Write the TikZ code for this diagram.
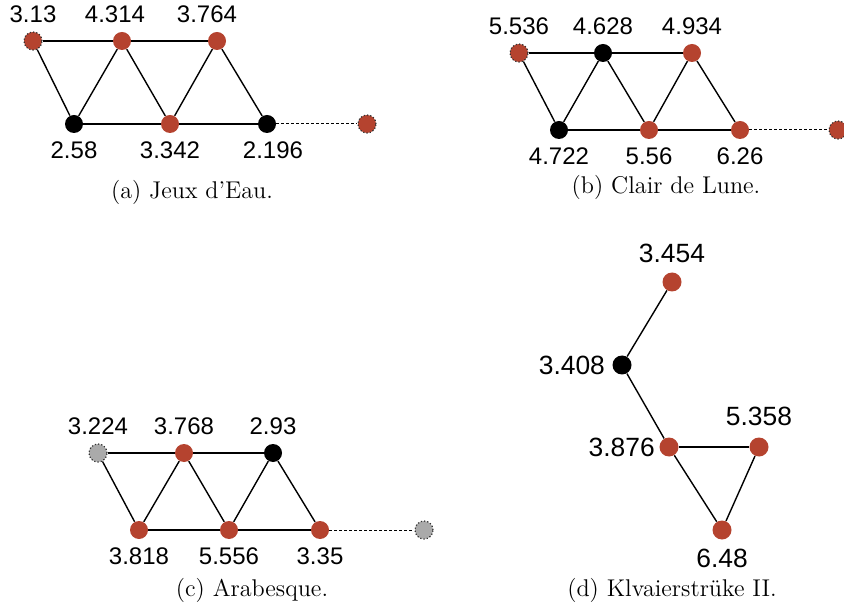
\documentclass[tikz,border=0pt]{standalone}
\usepackage{fontspec}
\setsansfont{Liberation Sans}
\usepackage{tikz}
\definecolor{vred}{HTML}{B5432F}
\definecolor{vgray}{HTML}{AAAAAA}

\begin{document}
\begin{tikzpicture}[x=0.5pt,y=-0.5pt, every node/.style={inner sep=0pt}, every label/.style={font=\sffamily\fontsize{12}{14}\selectfont,inner sep=4pt}, label distance=0pt, vx/.style={circle,minimum size=9pt}, rv/.style={vx,fill=vred}, bv/.style={vx,fill=black}, gv/.style={vx,fill=vgray}, ghost/.style={draw=black!80,densely dotted,line width=0.6pt}, edge/.style={line width=0.7pt}, link/.style={dash pattern=on 1.5pt off 1pt,line width=0.5pt}, captxt/.style={font=\rmfamily\fontsize{12.1}{14}\selectfont}, big/.style={every label/.append style={font=\sffamily\fontsize{13.2}{15}\selectfont,inner sep=4.4pt}}]
\useasboundingbox (0,0) rectangle (844,608);
% (a)
\node[rv,ghost,label=above:3.13] (a1) at (33,41) {};
\node[rv,label={[xshift=-3.5pt]above:4.314}] (a2) at (122,41) {};
\node[rv,label={[xshift=-5pt]above:3.764}] (a3) at (217,41) {};
\node[bv,label=below:2.58] (a4) at (74,124) {};
\node[rv,label=below:3.342] (a5) at (170,124) {};
\node[bv,label={[xshift=3pt]below:2.196}] (a6) at (267,124) {};
\node[rv,ghost] (a7) at (367,124) {};
\draw[edge] (a1)--(a2); \draw[edge] (a2)--(a3); \draw[edge] (a4)--(a5); \draw[edge] (a5)--(a6);
\draw[edge] (a1)--(a4); \draw[edge] (a4)--(a2); \draw[edge] (a2)--(a5); \draw[edge] (a5)--(a3); \draw[edge] (a3)--(a6);
\draw[link] (a6)--(a7);
\node[captxt] (capa) at (192,192) {(a) Jeux d'Eau.};
% (b)
\node[rv,ghost,label=above:5.536] (b1) at (519,53) {};
\node[bv,label=above:4.628] (b2) at (603,53) {};
\node[rv,label=above:4.934] (b3) at (692,53) {};
\node[bv,label=below:4.722] (b4) at (559,130) {};
\node[rv,label=below:5.56] (b5) at (649,130) {};
\node[rv,label=below:6.26] (b6) at (740,130) {};
\node[rv,ghost] (b7) at (838,130) {};
\draw[edge] (b1)--(b2); \draw[edge] (b2)--(b3); \draw[edge] (b4)--(b5); \draw[edge] (b5)--(b6);
\draw[edge] (b1)--(b4); \draw[edge] (b4)--(b2); \draw[edge] (b2)--(b5); \draw[edge] (b5)--(b3); \draw[edge] (b3)--(b6);
\draw[link] (b6)--(b7);
\node[captxt] (capb) at (666,187) {(b) Clair de Lune.};
% (c)
\node[gv,ghost,label=above:3.224] (c1) at (98,453) {};
\node[rv,label=above:3.768] (c2) at (184,453) {};
\node[bv,label=above:2.93] (c3) at (273,453) {};
\node[rv,label=below:3.818] (c4) at (139,530) {};
\node[rv,label=below:5.556] (c5) at (229,530) {};
\node[rv,label=below:3.35] (c6) at (320,530) {};
\node[gv,ghost] (c7) at (424,530) {};
\draw[edge] (c1)--(c2); \draw[edge] (c2)--(c3); \draw[edge] (c4)--(c5); \draw[edge] (c5)--(c6);
\draw[edge] (c1)--(c4); \draw[edge] (c4)--(c2); \draw[edge] (c2)--(c5); \draw[edge] (c5)--(c3); \draw[edge] (c3)--(c6);
\draw[link] (c6)--(c7);
\node[captxt] (capc) at (252,590) {(c) Arabesque.};
% (d)
\begin{scope}[big]
\node[rv,minimum size=9.5pt,label=above:3.454] (d1) at (672,282) {};
\node[bv,minimum size=9.5pt,label={[label distance=-1pt]left:3.408}] (d2) at (622,365) {};
\node[rv,minimum size=9.5pt,label={[label distance=-2.4pt]left:3.876}] (d3) at (669,447) {};
\node[rv,minimum size=9.5pt,label={[label distance=1pt]above:5.358}] (d4) at (759,447) {};
\node[rv,minimum size=9.5pt,label=below:6.48] (d5) at (722,530) {};
\end{scope}
\draw[edge] (d1)--(d2); \draw[edge] (d2)--(d3); \draw[edge] (d3)--(d4); \draw[edge] (d3)--(d5); \draw[edge] (d4)--(d5);
\node[captxt] (capd) at (672,590) {(d) Klvaierstrüke II.};
\end{tikzpicture}
\end{document}
